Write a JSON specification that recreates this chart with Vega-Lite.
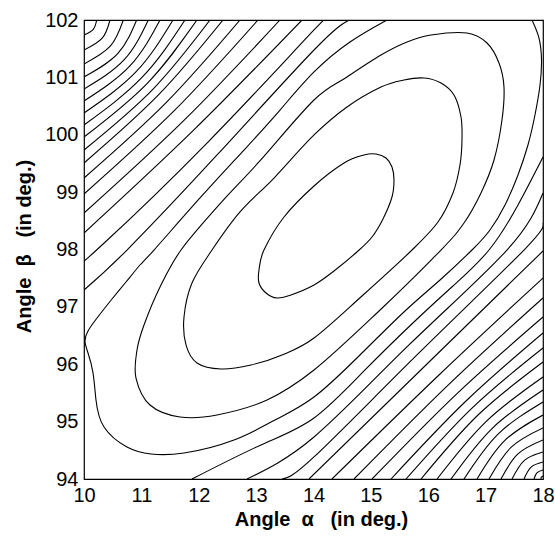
{
"$schema": "https://vega.github.io/schema/vega-lite/v6.json",
"width": 459, "height": 459,
"autosize": "none",
"padding": {"left": 84, "top": 20, "right": 12, "bottom": 57},
"background": "white",
"config": {
 "view": {"stroke": "#000", "strokeWidth": 1.2},
 "axis": {"labelFont": "Liberation Sans", "titleFont": "Liberation Sans", "labelColor": "#000", "titleColor": "#000", "grid": false, "ticks": false, "tickSize": 0, "domain": false, "labelFontSize": 20, "titleFontSize": 20, "titleFontWeight": "bold", "labelOverlap": false, "labelFlush": false, "labelBound": false}
},
"encoding": {
 "x": {"field": "a", "type": "quantitative", "scale": {"domain": [10, 18], "nice": false, "zero": false},
  "axis": {"values": [10,11,12,13,14,15,16,17,18], "labelPadding": 6, "title": "Angle\u00a0\u00a0α\u00a0\u00a0\u00a0(in deg.)", "titleX": 237, "titleY": 46, "titleBaseline": "alphabetic"}},
 "y": {"field": "b", "type": "quantitative", "scale": {"domain": [94, 102], "nice": false, "zero": false},
  "axis": {"values": [94,95,96,97,98,99,100,101,102], "labelPadding": 6, "title": "Angle\u00a0\u00a0β\u00a0\u00a0\u00a0(in deg.)", "titleX": -54, "titleY": 226, "titleAngle": 270, "titleBaseline": "alphabetic"}},
 "detail": {"field": "s", "type": "nominal"},
 "order": {"field": "i", "type": "quantitative"}
},
"layer": [
 {"data": {"values": [
  {"s":"C1","i":1,"a":15.089,"b":99.665},{"s":"C1","i":2,"a":15.264,"b":99.595},{"s":"C1","i":3,"a":15.368,"b":99.438},{"s":"C1","i":4,"a":15.403,"b":99.211},{"s":"C1","i":5,"a":15.368,"b":98.915},{"s":"C1","i":6,"a":15.211,"b":98.532},{"s":"C1","i":7,"a":15.020,"b":98.218},{"s":"C1","i":8,"a":14.776,"b":97.974},{"s":"C1","i":9,"a":14.357,"b":97.625},{"s":"C1","i":10,"a":14.009,"b":97.381},{"s":"C1","i":11,"a":13.608,"b":97.207},{"s":"C1","i":12,"a":13.364,"b":97.155},{"s":"C1","i":13,"a":13.172,"b":97.242},{"s":"C1","i":14,"a":13.050,"b":97.416},{"s":"C1","i":15,"a":13.050,"b":97.643},{"s":"C1","i":16,"a":13.137,"b":97.991},{"s":"C1","i":17,"a":13.486,"b":98.566},{"s":"C1","i":18,"a":14.009,"b":99.107},{"s":"C1","i":19,"a":14.532,"b":99.508},{"s":"C1","i":20,"a":14.880,"b":99.647},
  {"s":"C2","i":1,"a":14.009,"b":99.996},{"s":"C2","i":2,"a":14.584,"b":100.484},{"s":"C2","i":3,"a":15.176,"b":100.832},{"s":"C2","i":4,"a":15.577,"b":100.954},{"s":"C2","i":5,"a":15.926,"b":100.989},{"s":"C2","i":6,"a":16.222,"b":100.902},{"s":"C2","i":7,"a":16.449,"b":100.693},{"s":"C2","i":8,"a":16.571,"b":100.309},{"s":"C2","i":9,"a":16.588,"b":99.909},{"s":"C2","i":10,"a":16.553,"b":99.473},{"s":"C2","i":11,"a":16.431,"b":98.985},{"s":"C2","i":12,"a":16.170,"b":98.479},{"s":"C2","i":13,"a":15.717,"b":97.991},{"s":"C2","i":14,"a":14.845,"b":97.190},{"s":"C2","i":15,"a":14.009,"b":96.458},{"s":"C2","i":16,"a":13.451,"b":96.161},{"s":"C2","i":17,"a":12.911,"b":95.987},{"s":"C2","i":18,"a":12.388,"b":95.917},{"s":"C2","i":19,"a":11.969,"b":96.022},{"s":"C2","i":20,"a":11.778,"b":96.336},{"s":"C2","i":21,"a":11.743,"b":96.824},{"s":"C2","i":22,"a":11.882,"b":97.416},{"s":"C2","i":23,"a":12.231,"b":97.991},{"s":"C2","i":24,"a":12.719,"b":98.654},{"s":"C2","i":25,"a":13.312,"b":99.246},
  {"s":"C3","i":1,"a":14.009,"b":100.606},{"s":"C3","i":2,"a":14.584,"b":101.007},{"s":"C3","i":3,"a":15.176,"b":101.390},{"s":"C3","i":4,"a":15.630,"b":101.617},{"s":"C3","i":5,"a":16.048,"b":101.739},{"s":"C3","i":6,"a":16.675,"b":101.773},{"s":"C3","i":7,"a":17.024,"b":101.599},{"s":"C3","i":8,"a":17.233,"b":101.251},{"s":"C3","i":9,"a":17.320,"b":100.832},{"s":"C3","i":10,"a":17.285,"b":100.257},{"s":"C3","i":11,"a":17.146,"b":99.560},{"s":"C3","i":12,"a":16.919,"b":98.985},{"s":"C3","i":13,"a":16.623,"b":98.462},{"s":"C3","i":14,"a":16.222,"b":97.991},{"s":"C3","i":15,"a":15.124,"b":96.911},{"s":"C3","i":16,"a":14.009,"b":95.900},{"s":"C3","i":17,"a":13.190,"b":95.377},{"s":"C3","i":18,"a":12.318,"b":95.116},{"s":"C3","i":19,"a":11.673,"b":95.081},{"s":"C3","i":20,"a":11.150,"b":95.290},{"s":"C3","i":21,"a":10.906,"b":95.760},{"s":"C3","i":22,"a":10.924,"b":96.248},{"s":"C3","i":23,"a":11.046,"b":96.684},{"s":"C3","i":24,"a":11.325,"b":97.346},{"s":"C3","i":25,"a":11.691,"b":97.991},{"s":"C3","i":26,"a":12.353,"b":98.776},{"s":"C3","i":27,"a":13.033,"b":99.508}
 ]},
 "mark": {"type": "line", "interpolate": "cardinal-closed", "stroke": "#000", "strokeWidth": 1.1, "clip": true}},
 {"data": {"values": [
  {"s":"C4","i":1,"a":15.281,"b":102},{"s":"C4","i":2,"a":14.636,"b":101.617},{"s":"C4","i":3,"a":14.009,"b":101.094},{"s":"C4","i":4,"a":13.416,"b":100.431},{"s":"C4","i":5,"a":12.789,"b":99.734},{"s":"C4","i":6,"a":12.022,"b":98.898},{"s":"C4","i":7,"a":11.220,"b":97.991},{"s":"C4","i":8,"a":10.976,"b":97.730},{"s":"C4","i":9,"a":10.732,"b":97.434},{"s":"C4","i":10,"a":10.488,"b":97.137},{"s":"C4","i":11,"a":10.227,"b":96.806},{"s":"C4","i":12,"a":10.070,"b":96.580},{"s":"C4","i":13,"a":10.017,"b":96.405},{"s":"C4","i":14,"a":10.070,"b":96.196},{"s":"C4","i":15,"a":10.157,"b":95.850},{"s":"C4","i":16,"a":10.209,"b":95.377},{"s":"C4","i":17,"a":10.349,"b":94.906},{"s":"C4","i":18,"a":10.749,"b":94.558},{"s":"C4","i":19,"a":11.168,"b":94.436},{"s":"C4","i":20,"a":11.743,"b":94.453},{"s":"C4","i":21,"a":12.614,"b":94.680},{"s":"C4","i":22,"a":13.329,"b":95.028},{"s":"C4","i":23,"a":14.009,"b":95.429},{"s":"C4","i":24,"a":14.810,"b":96.161},{"s":"C4","i":25,"a":15.595,"b":96.928},{"s":"C4","i":26,"a":16.205,"b":97.468},{"s":"C4","i":27,"a":16.762,"b":97.991},{"s":"C4","i":28,"a":17.076,"b":98.340},{"s":"C4","i":29,"a":17.338,"b":98.776},{"s":"C4","i":30,"a":17.564,"b":99.299},{"s":"C4","i":31,"a":17.738,"b":99.821},{"s":"C4","i":32,"a":17.860,"b":100.344},{"s":"C4","i":33,"a":17.948,"b":100.867},{"s":"C4","i":34,"a":17.974,"b":101.303},{"s":"C4","i":35,"a":17.930,"b":101.686},{"s":"C4","i":36,"a":17.808,"b":102},
  {"s":"C5","i":1,"a":10,"b":97.294},{"s":"C5","i":2,"a":10.749,"b":97.991},{"s":"C5","i":3,"a":12.335,"b":99.665},{"s":"C5","i":4,"a":14.009,"b":101.477},{"s":"C5","i":5,"a":14.619,"b":102},
  {"s":"C5b","i":1,"a":11.882,"b":94},{"s":"C5b","i":2,"a":13.085,"b":94.593},{"s":"C5b","i":3,"a":14.009,"b":95.063},{"s":"C5b","i":4,"a":14.898,"b":95.900},{"s":"C5b","i":5,"a":15.769,"b":96.754},{"s":"C5b","i":6,"a":16.431,"b":97.364},{"s":"C5b","i":7,"a":17.059,"b":97.991},{"s":"C5b","i":8,"a":17.564,"b":98.776},{"s":"C5b","i":9,"a":18,"b":99.612},
  {"s":"C6","i":1,"a":10,"b":97.817},{"s":"C6","i":2,"a":10.314,"b":98.078},{"s":"C6","i":3,"a":12.144,"b":99.856},{"s":"C6","i":4,"a":14.009,"b":101.826},{"s":"C6","i":5,"a":14.235,"b":102},
  {"s":"C6b","i":1,"a":12.841,"b":94},{"s":"C6b","i":2,"a":14.009,"b":94.732},{"s":"C6b","i":3,"a":15.664,"b":96.336},{"s":"C6b","i":4,"a":17.372,"b":97.991},{"s":"C6b","i":5,"a":18,"b":98.985},
  {"s":"C7","i":1,"a":10,"b":98.288},{"s":"C7","i":2,"a":11.915,"b":100.085},{"s":"C7","i":3,"a":13.800,"b":102},
  {"s":"C7b","i":1,"a":13.451,"b":94},{"s":"C7b","i":2,"a":14.009,"b":94.384},{"s":"C7b","i":3,"a":15.821,"b":96.179},{"s":"C7b","i":4,"a":17.669,"b":97.991},{"s":"C7b","i":5,"a":18,"b":98.462},
  {"s":"C8","i":1,"a":10,"b":98.636},{"s":"C8","i":2,"a":11.746,"b":100.254},{"s":"C8","i":3,"a":13.416,"b":102},
  {"s":"C8b","i":1,"a":13.922,"b":94},{"s":"C8b","i":2,"a":15.987,"b":96.013},{"s":"C8b","i":3,"a":18,"b":97.974},
  {"s":"C9","i":1,"a":10,"b":98.967},{"s":"C9","i":2,"a":11.577,"b":100.423},{"s":"C9","i":3,"a":13.033,"b":102},
  {"s":"C9b","i":1,"a":14.322,"b":94},{"s":"C9b","i":2,"a":16.187,"b":95.813},{"s":"C9b","i":3,"a":18,"b":97.503},
  {"s":"C10","i":1,"a":10,"b":99.246},{"s":"C10","i":2,"a":11.436,"b":100.564},{"s":"C10","i":3,"a":12.719,"b":102},
  {"s":"C10b","i":1,"a":14.706,"b":94},{"s":"C10b","i":2,"a":16.355,"b":95.645},{"s":"C10b","i":3,"a":18,"b":97.155},
  {"s":"C11","i":1,"a":10,"b":99.508},{"s":"C11","i":2,"a":11.302,"b":100.698},{"s":"C11","i":3,"a":12.423,"b":102},
  {"s":"C11b","i":1,"a":15.020,"b":94},{"s":"C11b","i":2,"a":16.506,"b":95.494},{"s":"C11b","i":3,"a":18,"b":96.824},
  {"s":"C12","i":1,"a":10,"b":99.734},{"s":"C12","i":2,"a":11.204,"b":100.796},{"s":"C12","i":3,"a":12.196,"b":102},
  {"s":"C12b","i":1,"a":15.351,"b":94},{"s":"C12b","i":2,"a":16.649,"b":95.351},{"s":"C12b","i":3,"a":18,"b":96.545},
  {"s":"C13","i":1,"a":10,"b":99.961},{"s":"C13","i":2,"a":11.103,"b":100.897},{"s":"C13","i":3,"a":11.969,"b":102},
  {"s":"C13b","i":1,"a":15.612,"b":94},{"s":"C13b","i":2,"a":16.763,"b":95.237},{"s":"C13b","i":3,"a":18,"b":96.283},
  {"s":"C14","i":1,"a":10,"b":100.170},{"s":"C14","i":2,"a":11.006,"b":100.994},{"s":"C14","i":3,"a":11.760,"b":102},
  {"s":"C14b","i":1,"a":15.874,"b":94},{"s":"C14b","i":2,"a":16.876,"b":95.124},{"s":"C14b","i":3,"a":18,"b":96.039},
  {"s":"C15","i":1,"a":10,"b":100.379},{"s":"C15","i":2,"a":10.905,"b":101.095},{"s":"C15","i":3,"a":11.551,"b":102},
  {"s":"C15b","i":1,"a":16.153,"b":94},{"s":"C15b","i":2,"a":17.003,"b":94.997},{"s":"C15b","i":3,"a":18,"b":95.778},
  {"s":"C16","i":1,"a":10,"b":100.588},{"s":"C16","i":2,"a":10.800,"b":101.200},{"s":"C16","i":3,"a":11.325,"b":102},
  {"s":"C16b","i":1,"a":16.397,"b":94},{"s":"C16b","i":2,"a":17.116,"b":94.884},{"s":"C16b","i":3,"a":18,"b":95.551},
  {"s":"C17","i":1,"a":10,"b":100.797},{"s":"C17","i":2,"a":10.697,"b":101.303},{"s":"C17","i":3,"a":11.121,"b":102},
  {"s":"C17b","i":1,"a":16.623,"b":94},{"s":"C17b","i":2,"a":17.217,"b":94.783},{"s":"C17b","i":3,"a":18,"b":95.342},
  {"s":"C18","i":1,"a":10,"b":101.007},{"s":"C18","i":2,"a":10.587,"b":101.413},{"s":"C18","i":3,"a":10.918,"b":102},
  {"s":"C18b","i":1,"a":16.850,"b":94},{"s":"C18b","i":2,"a":17.331,"b":94.669},{"s":"C18b","i":3,"a":18,"b":95.115},
  {"s":"C19","i":1,"a":10,"b":101.233},{"s":"C19","i":2,"a":10.457,"b":101.543},{"s":"C19","i":3,"a":10.685,"b":102},
  {"s":"C19b","i":1,"a":17.059,"b":94},{"s":"C19b","i":2,"a":17.446,"b":94.554},{"s":"C19b","i":3,"a":18,"b":94.889},
  {"s":"C20","i":1,"a":10,"b":101.477},{"s":"C20","i":2,"a":10.317,"b":101.683},{"s":"C20","i":3,"a":10.453,"b":102},
  {"s":"C20b","i":1,"a":17.268,"b":94},{"s":"C20b","i":2,"a":17.563,"b":94.437},{"s":"C20b","i":3,"a":18,"b":94.680},
  {"s":"C21","i":1,"a":10,"b":101.739},{"s":"C21","i":2,"a":10.162,"b":101.838},{"s":"C21","i":3,"a":10.221,"b":102},
  {"s":"C21b","i":1,"a":17.460,"b":94},{"s":"C21b","i":2,"a":17.676,"b":94.324},{"s":"C21b","i":3,"a":18,"b":94.471},
  {"s":"C22b","i":1,"a":17.669,"b":94},{"s":"C22b","i":2,"a":17.793,"b":94.207},{"s":"C22b","i":3,"a":18,"b":94.296},
  {"s":"C23b","i":1,"a":17.843,"b":94},{"s":"C23b","i":2,"a":17.894,"b":94.106},{"s":"C23b","i":3,"a":18,"b":94.157},
  {"s":"C24b","i":1,"a":17.965,"b":94},{"s":"C24b","i":2,"a":17.970,"b":94.030},{"s":"C24b","i":3,"a":18,"b":94.052}
 ]},
 "mark": {"type": "line", "interpolate": "natural", "stroke": "#000", "strokeWidth": 1.1, "clip": true}}
]
}
